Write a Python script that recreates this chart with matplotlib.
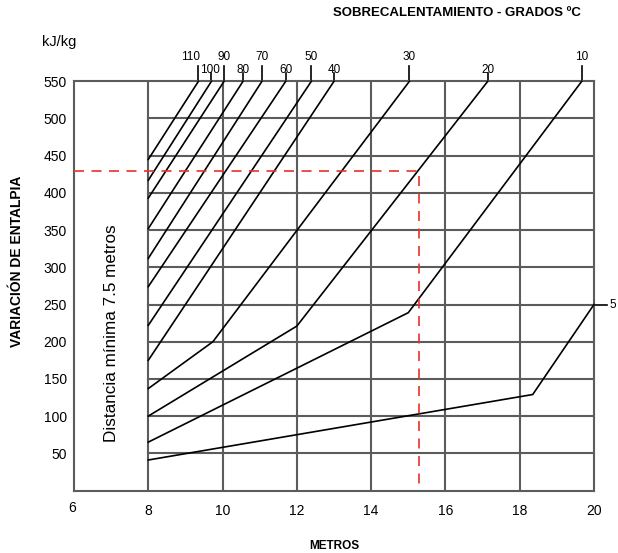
import matplotlib
matplotlib.use("Agg")
import matplotlib.pyplot as plt
from matplotlib.transforms import ScaledTranslation

plt.rcParams['font.family'] = ['Liberation Sans', 'DejaVu Sans']

# ---- data ----
series_labels = ['110', '100', '90', '80', '70', '60', '50', '40', '30', '20', '10', '5']
line_x = [
    [8, 9.35],
    [8, 9.70],
    [8, 10.04],
    [8, 10.55],
    [8, 11.06],
    [8, 11.70],
    [8, 12.39],
    [8, 13.00],
    [8, 9.74, 15.03],
    [8, 12.0, 17.14],
    [8, 15.0, 19.67],
    [8, 18.35, 20.0],
]
line_y = [
    [445, 550],
    [417, 550],
    [393, 550],
    [352, 550],
    [312, 550],
    [274, 550],
    [222, 550],
    [175, 550],
    [137, 200, 550],
    [100, 221, 550],
    [65, 239, 550],
    [41, 129, 250],
]
x_ticks = [6, 8, 10, 12, 14, 16, 18, 20]
x_ticklabels = ['6', '8', '10', '12', '14', '16', '18', '20']
y_ticks = [50, 100, 150, 200, 250, 300, 350, 400, 450, 500, 550]
y_ticklabels = ['50', '100', '150', '200', '250', '300', '350', '400', '450', '500', '550']
example_x = 15.3
example_y = 430

# ---- figure ----
W, H = 618, 553
fig = plt.figure(figsize=(W / 100, H / 100), dpi=100)
left_px, right_px, top_px, bot_px = 74, 594, 81.3, 490.5
ax = fig.add_axes([left_px / W, (H - bot_px) / H, (right_px - left_px) / W, (bot_px - top_px) / H])
ax.set_xlim(6, 20)
ax.set_ylim(0, 550)

grid_c = '#5c5c5c'
for s in ax.spines.values():
    s.set_color(grid_c)
    s.set_linewidth(1.5)

for xv in x_ticks[1:-1]:
    ax.plot([xv, xv], [0, 550], color=grid_c, lw=1.5, zorder=1)
for yv in y_ticks[:-1]:
    ax.plot([8, 20], [yv, yv], color=grid_c, lw=1.5, zorder=1)

ax.set_xticks(x_ticks)
ax.set_xticklabels(x_ticklabels, fontsize=10)
ax.set_yticks(y_ticks)
ax.set_yticklabels(y_ticklabels, fontsize=10)
ax.tick_params(axis='both', length=0)
ax.tick_params(axis='x', pad=10)
ax.tick_params(axis='y', pad=5)
for lbl in ax.get_xticklabels():
    if lbl.get_text() == '6':
        lbl.set_transform(lbl.get_transform() + ScaledTranslation(-2 / 100, 3 / 100, fig.dpi_scale_trans))

# curves
for i, (xs, ys) in enumerate(zip(line_x, line_y)):
    ax.plot(xs, ys, color='black', lw=1.2, zorder=3, solid_joinstyle='miter', clip_on=False)

# top ticks & labels
for i, (xs, ys, lab) in enumerate(zip(line_x, line_y, series_labels)):
    if lab == '5':
        ax.plot([xs[-1], xs[-1] + 0.36], [ys[-1], ys[-1]], color='black', lw=1.2, clip_on=False)
        ax.text(xs[-1] + 0.42, ys[-1], lab, fontsize=8.5, ha='left', va='center', clip_on=False)
        continue
    high = (i % 2 == 0)
    top = 570.5 if high else 561
    base = 578 if high else 561.5
    ax.plot([xs[-1], xs[-1]], [550, top], color='black', lw=1.2, clip_on=False)
    lx = xs[-1] - (0.22 if lab == '110' else 0.03 if lab == '100' else 0)
    ax.text(lx, base, lab, fontsize=8.5, ha='center', va='baseline', clip_on=False)

# red dashed reference
ax.plot([6, example_x, example_x], [example_y, example_y, 0], color='#e8312b', lw=1.2,
        dashes=(6, 4.5), zorder=4, clip_on=False)

# texts
ax.text(7.0, 212, 'Distancia mínima 7.5 metros', rotation=90, fontsize=12.3,
        ha='center', va='center')
fig.text(42 / W, 1 - 42 / H, 'kJ/kg', fontsize=10.5, ha='left', va='center')
fig.text(457 / W, 1 - 13 / H, 'SOBRECALENTAMIENTO - GRADOS ºC', fontsize=9.5, fontweight='bold',
         ha='center', va='center')
fig.text(17 / W, 1 - 261 / H, 'VARIACIÓN DE ENTALPIA', fontsize=10, fontweight='bold',
         rotation=90, ha='center', va='center')
fig.text(334 / W, 1 - 546 / H, 'METROS', fontsize=8.5, fontweight='bold', ha='center', va='center')

fig.savefig('out.png', dpi=100)
